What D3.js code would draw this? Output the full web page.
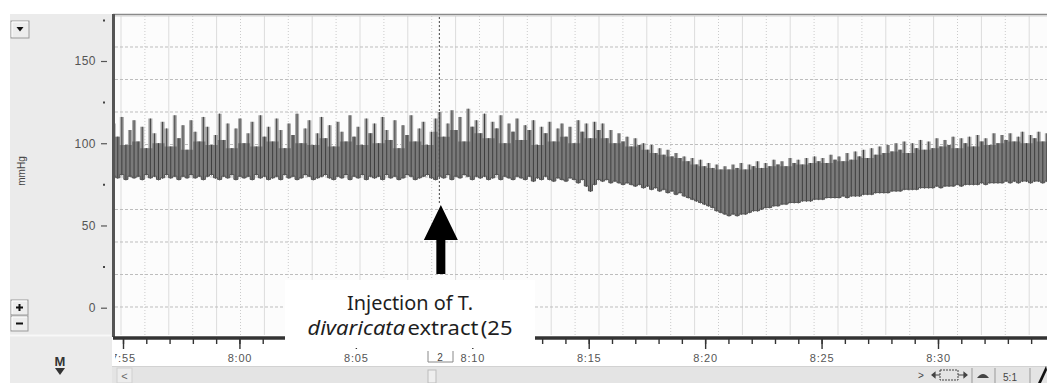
<!DOCTYPE html>
<html>
<head>
<meta charset="utf-8">
<script src="https://cdn.jsdelivr.net/npm/d3@7"></script>
<style>
  html, body { margin: 0; padding: 0; background: #fff; }
  svg { display: block; font-family: "Liberation Sans", Arial, sans-serif; }
</style>
</head>
<body>
<svg id="chart" width="1047" height="383"></svg>
<script>
// ---- data ----
const timeTickLabels = ["7:55", "8:00", "8:05", "8:10", "8:15", "8:20", "8:25", "8:30"];
const pressureTicks = [0, 50, 100, 150];
const pressureMinorTicks = [25, 75, 125, 175];

// trace sampled as displayed: one peak/trough pair per sample
const sampleStart = "7:54:36";
const sampleStepSec = 10.5;

const systolic = [
  112, 104, 116, 99, 108, 114, 101, 110, 97, 115, 106, 100, 113, 109, 98, 117, 103, 111, 96, 114,
  107, 101, 116, 110, 99, 105, 118, 102, 112, 97, 109, 115, 100, 106, 113, 98, 117, 104, 110, 101,
  115, 108, 97, 112, 105, 118, 100, 109, 114, 99, 106, 116, 103, 111, 98, 113, 107, 101, 117, 104,
  110, 99, 115, 106, 112, 100, 116, 108, 102, 114, 97, 111, 105, 117, 101, 109, 113, 99, 107, 115,
  119, 104, 112, 120, 108, 116, 101, 121, 110, 114, 106, 118, 103, 113, 109, 117, 100, 112, 107, 115,
  102, 111, 108, 114, 99, 110, 106, 113, 101, 109, 112, 104, 110, 100, 114, 107, 112, 103, 113, 108,
  112, 103, 108, 100, 106, 101, 104, 98, 103, 99, 100, 96, 99, 94, 97, 93, 96, 92, 94, 91,
  92, 89, 91, 87, 90, 86, 88, 85, 87, 84, 86, 84, 87, 85, 88, 84, 87, 86, 89, 85,
  88, 86, 90, 87, 89, 86, 91, 88, 90, 87, 91, 88, 92, 89, 91, 88, 93, 90, 92, 89,
  94, 90, 95, 92, 96, 91, 97, 93, 98, 94, 99, 95, 100, 96, 101, 94, 100, 97, 102, 96,
  101, 97, 103, 98, 102, 99, 104, 97, 103, 100, 104, 98, 105, 101, 103, 99, 106, 100, 105, 102,
  106, 101, 104, 107, 100, 105, 103, 107, 101, 106
];
const diastolic = [
  80, 79, 81, 78, 80, 79, 80, 78, 81, 79, 80, 78, 79, 81, 79, 80, 78, 80, 79, 81,
  79, 80, 78, 80, 81, 79, 78, 80, 79, 81, 78, 80, 79, 80, 78, 81, 79, 80, 78, 79,
  80, 78, 81, 79, 80, 78, 79, 81, 80, 78, 79, 80, 81, 79, 78, 80, 79, 81, 78, 80,
  79, 81, 78, 80, 79, 80, 78, 81, 79, 80, 78, 79, 81, 80, 78, 79, 80, 81, 79, 78,
  80, 79, 81, 78, 80, 79, 81, 80, 78, 80, 79, 80, 78, 79, 81, 78, 80, 79, 78, 80,
  79, 78, 80, 77, 79, 78, 80, 78, 77, 79, 78, 77, 79, 78, 76, 78, 74, 71, 75, 78,
  77, 78, 76, 77, 76, 75, 76, 75, 74, 75, 73, 74, 72, 73, 71, 72, 70, 71, 69, 70,
  68, 67, 66, 65, 64, 63, 62, 61, 59, 58, 57, 56, 57, 56, 57, 57, 58, 59, 59, 60,
  61, 61, 62, 62, 63, 63, 64, 64, 64, 65, 65, 65, 66, 66, 66, 67, 67, 67, 67, 68,
  67, 68, 68, 68, 69, 69, 69, 70, 70, 70, 70, 71, 71, 71, 72, 72, 72, 72, 73, 73,
  73, 73, 74, 73, 74, 74, 74, 75, 74, 75, 75, 75, 75, 76, 75, 76, 76, 76, 76, 77,
  76, 77, 76, 77, 77, 76, 77, 77, 76, 77
];

const injectionTime = "8:08:39";
const injectionText = ["Injection of T.", "divaricata", "extract (25"];
const commentNumber = "2";
// ---------------------------------------

const W = 1047, H = 383;
const plot = { left: 115, top: 16, right: W, bottom: 335 };

const toMinutes = s => {
  const p = s.split(":").map(Number);
  return p[0] * 60 + p[1] + (p[2] || 0) / 60;
};
const fmtTime = m => `${Math.floor(m / 60)}:${String(Math.round(m % 60)).padStart(2, "0")}`;

const t0 = toMinutes(sampleStart);
const step = sampleStepSec / 60;
const beats = systolic.map((s, i) => ({ t: t0 + i * step, sys: s, dia: diastolic[i] }));
// lower, densely drawn part of the band
beats.forEach((d, i) => {
  d.dense = d3.min(systolic.slice(Math.max(0, i - 1), i + 2));
});

const x = d3.scaleLinear()
  .domain([toMinutes(timeTickLabels[0]), toMinutes(timeTickLabels[timeTickLabels.length - 1])])
  .range([123, 938]);
const y = d3.scaleLinear().domain([0, 150]).range([307.7, 61]);

// chart window divisions (grid is screen based, not value based)
const gridX = d3.scaleLinear().domain([0, 1]).range([121, 144.9]);
const gridY = d3.scaleLinear().domain([0, 1]).range([47, 79.5]);

const svg = d3.select("#chart");

// left panel
svg.append("rect")
  .attr("x", 10).attr("y", 14).attr("width", 102).attr("height", H - 14)
  .attr("fill", "#ebebeb");
svg.append("line")
  .attr("x1", 10).attr("x2", 111).attr("y1", 335.5).attr("y2", 335.5)
  .attr("stroke", "#f8f8f8").attr("stroke-width", 2);

// plot window
svg.append("rect")
  .attr("x", plot.left).attr("y", plot.top)
  .attr("width", plot.right - plot.left).attr("height", plot.bottom - plot.top)
  .attr("fill", "#fcfcfc");

const grid = svg.append("g").attr("class", "grid");
grid.selectAll(".vg")
  .data(d3.range(0, 39))
  .join("line")
  .attr("class", "vg")
  .attr("x1", d => gridX(d)).attr("x2", d => gridX(d))
  .attr("y1", plot.top).attr("y2", plot.bottom)
  .attr("stroke", d => d % 2 === 0 ? "#dcdcdc" : "#cbcbcb")
  .attr("stroke-dasharray", d => d % 2 === 0 ? null : "1,2");
grid.selectAll(".hg")
  .data(d3.range(0, 9))
  .join("line")
  .attr("class", "hg")
  .attr("x1", plot.left).attr("x2", plot.right)
  .attr("y1", d => gridY(d)).attr("y2", d => gridY(d))
  .attr("stroke", "#bdbdbd")
  .attr("stroke-dasharray", "3,2");

// trace
svg.append("clipPath").attr("id", "plotClip")
  .append("rect")
  .attr("x", plot.left).attr("y", plot.top)
  .attr("width", plot.right - plot.left).attr("height", plot.bottom - plot.top);

const trace = svg.append("g").attr("clip-path", "url(#plotClip)");

trace.append("path")
  .datum(beats)
  .attr("fill", "#aaaaaa")
  .attr("d", d3.area()
    .x(d => x(d.t))
    .y0(d => y(d.dia))
    .y1(d => y(d.sys))
    .curve(d3.curveStep));

trace.append("path")
  .datum(beats)
  .attr("fill", "#7a7a7a")
  .attr("d", d3.area()
    .x(d => x(d.t))
    .y0(d => y(d.dia))
    .y1(d => y(d.dense))
    .curve(d3.curveStep));

// full-height stroke for every beat
trace.selectAll(".beat")
  .data(beats)
  .join("line")
  .attr("class", "beat")
  .attr("x1", d => x(d.t)).attr("x2", d => x(d.t))
  .attr("y1", d => y(d.dia) + 1).attr("y2", d => y(d.sys))
  .attr("stroke", "#3f3f3f")
  .attr("stroke-width", 1);
// lower edge of the band
trace.append("path")
  .datum(beats)
  .attr("fill", "none")
  .attr("stroke", "#555")
  .attr("stroke-width", 1)
  .attr("d", d3.line().x(d => x(d.t)).y(d => y(d.dia)).curve(d3.curveStep));

// frame
svg.append("line")
  .attr("x1", plot.left - 2).attr("x2", W).attr("y1", 14.5).attr("y2", 14.5)
  .attr("stroke", "#8a8a8a").attr("stroke-width", 1.5);
svg.append("line")
  .attr("x1", plot.left).attr("x2", W).attr("y1", 16).attr("y2", 16)
  .attr("stroke", "#cfcfcf").attr("stroke-width", 1);
svg.append("line")
  .attr("x1", 113.5).attr("x2", 113.5).attr("y1", 14).attr("y2", 337)
  .attr("stroke", "#555").attr("stroke-width", 3);

// y axis
svg.append("g").attr("transform", "translate(107,0)")
  .call(d3.axisLeft(y).tickValues(pressureTicks).tickSize(6).tickPadding(5))
  .call(g => g.select(".domain").remove())
  .call(g => g.selectAll(".tick line").attr("stroke", "#555").attr("stroke-width", 1.2))
  .call(g => g.selectAll(".tick text")
    .attr("fill", "#555").attr("font-size", 12).attr("letter-spacing", "0.5px")
    .attr("font-family", "'Liberation Sans', Arial, sans-serif"));
svg.append("g").attr("transform", "translate(105,0)")
  .call(d3.axisLeft(y).tickValues(pressureMinorTicks).tickSize(2).tickFormat(""))
  .call(g => g.select(".domain").remove())
  .call(g => g.selectAll(".tick line").attr("stroke", "#444").attr("stroke-width", 2));

svg.append("text")
  .attr("transform", "translate(25,171) rotate(-90)")
  .attr("text-anchor", "middle")
  .attr("font-size", 10)
  .attr("fill", "#444")
  .text("mmHg");

// x axis
const majorTicks = timeTickLabels.map(toMinutes);
const minorTicks = d3.range(majorTicks[0], majorTicks[majorTicks.length - 1] + 5);

svg.append("clipPath").attr("id", "axisClip")
  .append("rect").attr("x", 115).attr("y", 330).attr("width", W - 115).attr("height", 40);

const xAxisG = svg.append("g").attr("clip-path", "url(#axisClip)");
xAxisG.append("g").attr("transform", "translate(0,338)")
  .call(d3.axisBottom(x).tickValues(minorTicks).tickSize(6).tickFormat(""))
  .call(g => g.select(".domain").remove())
  .call(g => g.selectAll(".tick line").attr("stroke", "#333").attr("stroke-width", 1.4));
xAxisG.append("g").attr("transform", "translate(0,338)")
  .call(d3.axisBottom(x).tickValues(majorTicks).tickSize(11).tickPadding(5).tickFormat(fmtTime))
  .call(g => g.select(".domain").remove())
  .call(g => g.selectAll(".tick line").attr("stroke", "#333").attr("stroke-width", 1.4))
  .call(g => g.selectAll(".tick text")
    .attr("fill", "#555").attr("font-size", 11).attr("letter-spacing", "0.8px")
    .attr("font-family", "'Liberation Sans', Arial, sans-serif"));
svg.append("line")
  .attr("x1", 113).attr("x2", W).attr("y1", 338).attr("y2", 338)
  .attr("stroke", "#333").attr("stroke-width", 3.5);

// injection marker
const ix = x(toMinutes(injectionTime));
const tipY = y(62.5);
svg.append("line")
  .attr("x1", ix - 1.5).attr("x2", ix - 1.5).attr("y1", plot.top + 1).attr("y2", tipY)
  .attr("stroke", "#444").attr("stroke-width", 1).attr("stroke-dasharray", "2,2");
svg.append("path")
  .attr("d", `M${ix},${tipY} L${ix + 17},${tipY + 35} L${ix + 4.5},${tipY + 35} L${ix + 4.5},${tipY + 69}
    L${ix - 4.5},${tipY + 69} L${ix - 4.5},${tipY + 35} L${ix - 17},${tipY + 35} Z`)
  .attr("fill", "#000");

// caption box
svg.append("rect")
  .attr("x", 285).attr("y", 280).attr("width", 250).attr("height", 68)
  .attr("fill", "#fff");
const cap = svg.append("g").attr("fill", "#1e1e1e").attr("font-family", "'Noto Sans', 'Open Sans', sans-serif")
  .attr("font-size", 20);
cap.append("text")
  .attr("x", 410).attr("y", 310)
  .attr("text-anchor", "middle")
  .attr("textLength", 126).attr("lengthAdjust", "spacingAndGlyphs")
  .text(injectionText[0]);
const line2 = cap.append("text")
  .attr("x", 410).attr("y", 335)
  .attr("text-anchor", "middle")
  .attr("textLength", 205).attr("lengthAdjust", "spacingAndGlyphs")
  .attr("word-spacing", "-3px");
line2.append("tspan").attr("font-style", "italic").text(injectionText[1]);
line2.append("tspan").text(" " + injectionText[2]);

// comment marker
svg.append("path")
  .attr("d", "M428,351 V362 H453 V351")
  .attr("fill", "none").attr("stroke", "#888").attr("stroke-width", 1);
svg.append("text")
  .attr("x", 440).attr("y", 360.5).attr("text-anchor", "middle")
  .attr("font-size", 10).attr("fill", "#444")
  .text(commentNumber);

// scroll bar
svg.append("rect")
  .attr("x", 112).attr("y", 366).attr("width", W - 112).attr("height", 17)
  .attr("fill", "#e4e4e4");
svg.append("line")
  .attr("x1", 112).attr("x2", W).attr("y1", 366.5).attr("y2", 366.5)
  .attr("stroke", "#d2d2d2");
svg.append("rect")
  .attr("x", 117).attr("y", 368).attr("width", 15).attr("height", 15)
  .attr("fill", "#ececec").attr("stroke", "#d0d0d0");
svg.append("text")
  .attr("x", 124.5).attr("y", 380).attr("text-anchor", "middle")
  .attr("font-size", 11).attr("fill", "#666").text("<");
svg.append("rect")
  .attr("x", 428).attr("y", 370).attr("width", 8).attr("height", 13)
  .attr("fill", "#eee").attr("stroke", "#bbb");

// toolbar at the right
const tb = svg.append("g").attr("fill", "#444").attr("font-size", 10);
tb.append("text").attr("x", 921).attr("y", 379).attr("text-anchor", "middle").text(">");
tb.append("rect").attr("x", 940).attr("y", 370).attr("width", 18).attr("height", 10)
  .attr("fill", "none").attr("stroke", "#444").attr("stroke-dasharray", "2,1");
tb.append("path").attr("d", "M932,375 H940 M958,375 H967 M932,375 l3,-2.5 v5 Z M967,375 l-3,-2.5 v5 Z")
  .attr("stroke", "#444").attr("stroke-width", 1.2);
tb.append("path").attr("d", "M977,378 Q983,370 989,378 Z");
tb.append("text").attr("x", 1010).attr("y", 381).attr("text-anchor", "middle").text("5:1");
[972, 995, 1030].forEach(sx => {
  tb.append("line").attr("x1", sx).attr("x2", sx).attr("y1", 368).attr("y2", 383)
    .attr("stroke", "#999");
});
tb.append("path").attr("d", "M1038,383 L1046,366 L1047,370 L1041,383 Z").attr("fill", "#111");

// left panel controls
const btn = (bx, by, bw, bh) => {
  svg.append("rect").attr("x", bx).attr("y", by).attr("width", bw).attr("height", bh)
    .attr("fill", "#ededed").attr("stroke", "#9a9a9a");
  svg.append("path").attr("d", `M${bx + 1},${by + bh - 1} V${by + 1} H${bx + bw - 1}`)
    .attr("fill", "none").attr("stroke", "#fff");
};
btn(11, 21, 18, 17);
svg.append("path").attr("d", "M16.5,27 H23.5 L20,31.5 Z").attr("fill", "#111");
btn(11, 300, 17, 15);
btn(11, 316, 17, 15);
svg.append("path").attr("d", "M16,307.5 H23 M19.5,304 V311 M16,323.5 H23")
  .attr("stroke", "#111").attr("stroke-width", 2);
svg.append("text")
  .attr("x", 60).attr("y", 366).attr("text-anchor", "middle")
  .attr("font-size", 13).attr("font-weight", "bold").attr("fill", "#333").text("M");
svg.append("path").attr("d", "M55,368 H65 L60,375 Z").attr("fill", "#333");
</script>
</body>
</html>
